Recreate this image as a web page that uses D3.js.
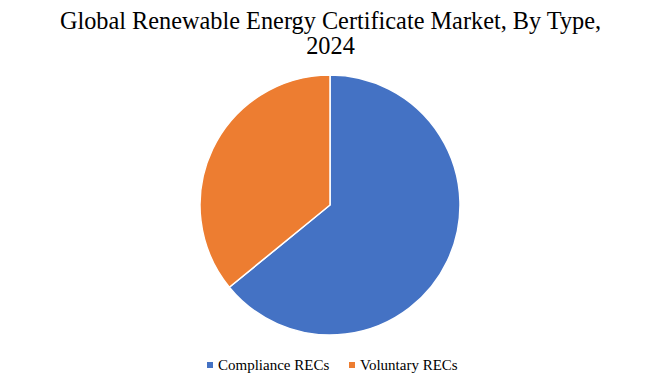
<!DOCTYPE html>
<html>
<head>
<meta charset="utf-8">
<script src="https://cdn.jsdelivr.net/npm/d3@7"></script>
<style>
  body { margin: 0; background: #fff; }
  text { font-family: "Liberation Serif", "DejaVu Serif", serif; fill: #000; }
</style>
</head>
<body>
<svg id="chart" width="661" height="376"></svg>
<script>
var categories = ["Compliance RECs", "Voluntary RECs"];
var values = [64.1, 35.9];
var colors = ["#4472C4", "#ED7D31"];
var titleLines = ["Global Renewable Energy Certificate Market, By Type,", "2024"];

var svg = d3.select("#chart"),
    width = +svg.attr("width"),
    cx = 330, cy = 205, radius = 130;

// title
svg.selectAll(".title")
  .data(titleLines)
  .enter()
  .append("text")
  .attr("class", "title")
  .attr("x", width / 2)
  .attr("y", function(d, i) { return 29 + i * 25; })
  .attr("text-anchor", "middle")
  .style("font-size", "24.3px")
  .text(function(d) { return d; });

var color = d3.scaleOrdinal().domain(categories).range(colors);

var pie = d3.pie().sort(null).value(function(d) { return d.value; });
var arc = d3.arc().innerRadius(0).outerRadius(radius);

var data = categories.map(function(c, i) { return { name: c, value: values[i] }; });

var g = svg.append("g").attr("transform", "translate(" + cx + "," + cy + ")");

g.selectAll("path")
  .data(pie(data))
  .enter()
  .append("path")
  .attr("d", arc)
  .style("fill", function(d) { return color(d.data.name); })
  .style("stroke", "#fff")
  .style("stroke-width", 1.5);

// legend
var legendX = [207, 349];
var legend = svg.selectAll(".legend")
  .data(data)
  .enter()
  .append("g")
  .attr("class", "legend")
  .attr("transform", function(d, i) { return "translate(" + legendX[i] + ",365)"; });

legend.append("rect")
  .attr("x", 0)
  .attr("y", -3)
  .attr("width", 6)
  .attr("height", 6)
  .style("fill", function(d) { return color(d.name); });

legend.append("text")
  .attr("x", 11)
  .attr("y", 5)
  .style("font-size", "15px")
  .text(function(d) { return d.name; });
</script>
</body>
</html>
